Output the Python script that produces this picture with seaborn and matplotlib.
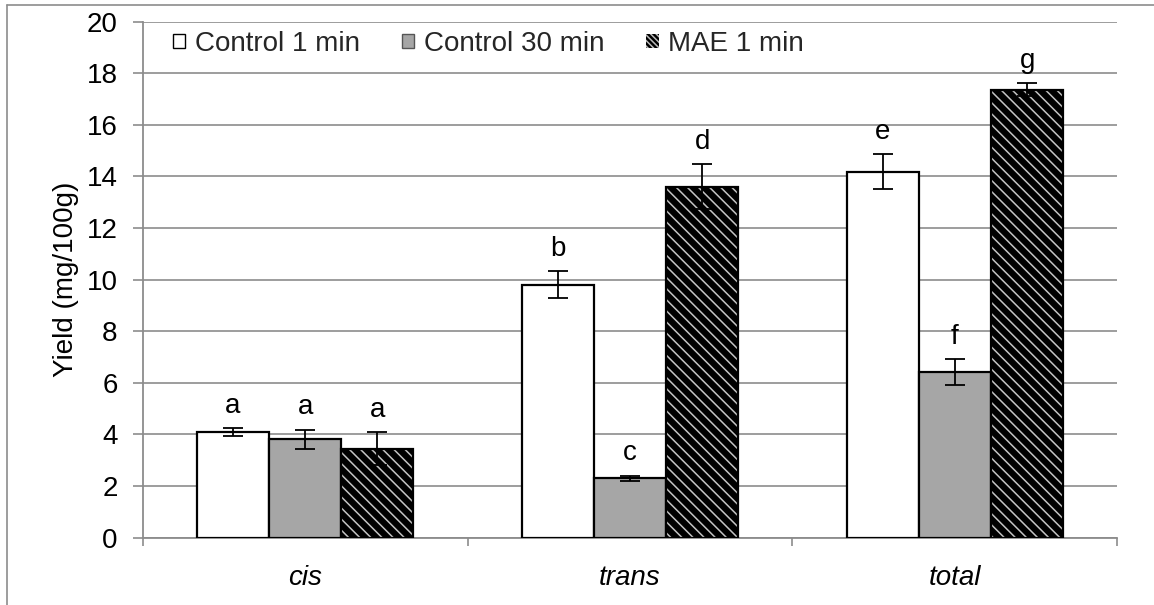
import matplotlib
matplotlib.use("Agg")
import matplotlib.pyplot as plt
from matplotlib.patches import Patch, Rectangle
from matplotlib.lines import Line2D
import seaborn as sns
import pandas as pd
import numpy as np

categories = ["cis", "trans", "total"]
series = ["Control 1 min", "Control 30 min", "MAE 1 min"]
control_1 = [4.08, 9.80, 14.18]
control_30 = [3.80, 2.30, 6.42]
mae_1 = [3.45, 13.60, 17.37]
err_control_1 = [0.15, 0.53, 0.68]
err_control_30 = [0.38, 0.10, 0.50]
err_mae_1 = [0.63, 0.88, 0.25]
letters_control_1 = ["a", "b", "e"]
letters_control_30 = ["a", "c", "f"]
letters_mae_1 = ["a", "d", "g"]

values = [control_1, control_30, mae_1]
errors = [err_control_1, err_control_30, err_mae_1]
letters = [letters_control_1, letters_control_30, letters_mae_1]

rows = []
for s, vals in zip(series, values):
    for c, v in zip(categories, vals):
        rows.append({"cat": c, "series": s, "yield": v})
df = pd.DataFrame(rows)

sns.set_theme(style="white")
plt.rcParams["font.family"] = ["Liberation Sans", "DejaVu Sans"]
plt.rcParams["hatch.linewidth"] = 1.1

FS = 20
GRID = "#8c8c8c"
colors = ["white", "#a6a6a6", "black"]

fig = plt.figure(figsize=(11.54, 6.05), dpi=100)
ax_left, ax_right, ax_bottom, ax_top = 142.7, 1117.3, 537.5, 21.7
ax = fig.add_axes([ax_left/1154, 1-ax_bottom/605, (ax_right-ax_left)/1154,
                   (ax_bottom-ax_top)/605])

sns.barplot(data=df, x="cat", y="yield", hue="series", order=categories,
            hue_order=series, palette=colors, width=0.667, gap=0,
            errorbar=None, edgecolor="black", linewidth=1.6, ax=ax,
            legend=False, zorder=3)

bar_containers = list(ax.containers)
for i, cont in enumerate(bar_containers):
    xs = []
    for p in cont.patches:
        xs.append(p.get_x() + p.get_width() / 2)
        if i == 2:
            p.set_facecolor("black")
            p.set_edgecolor("#c4c4c4")
            p.set_linewidth(0)
            p.set_hatch("\\\\\\")
            ax.add_patch(Rectangle(p.get_xy(), p.get_width(), p.get_height(),
                                   fill=False, edgecolor="black", linewidth=1.6,
                                   zorder=4))
    ax.errorbar(xs, values[i], yerr=errors[i], fmt="none", ecolor="black",
                elinewidth=1.3, capsize=7, capthick=1.3, zorder=5)
    for x, v, e, t in zip(xs, values[i], errors[i], letters[i]):
        ax.text(x, v + e + 0.6, t, ha="center", va="baseline", fontsize=FS,
                color="black")

ax.set_ylim(0, 20)
ax.set_xlim(-0.5, 2.5)
ax.set_yticks(np.arange(0, 21, 2))
ax.yaxis.grid(True, color=GRID, linewidth=1.2)
ax.set_axisbelow(True)
for s in ["top", "right"]:
    ax.spines[s].set_visible(False)
for s in ["left", "bottom"]:
    ax.spines[s].set_color(GRID)
    ax.spines[s].set_linewidth(1.3)

ax.tick_params(axis="y", which="major", length=7, width=1.2, color=GRID,
               pad=11, labelsize=FS, left=True, labelcolor="black")
ax.set_xticks([0, 1, 2])
ax.set_xticklabels(categories, fontstyle="italic", fontsize=FS)
ax.set_xticks([-0.5, 0.5, 1.5, 2.5], minor=True)
ax.tick_params(axis="x", which="major", length=0, pad=20, labelcolor="black")
ax.tick_params(axis="x", which="minor", length=6, width=1.2, color=GRID,
               bottom=True)
ax.set_xlabel("")
ax.set_ylabel("Yield (mg/100g)", fontsize=FS, color="black")
ax.yaxis.set_label_coords(-0.065, 0.5)

handles = [
    Patch(facecolor="white", edgecolor="black", linewidth=1),
    Patch(facecolor="#a6a6a6", edgecolor="#555555", linewidth=1),
    Patch(facecolor="black", edgecolor="#bbbbbb", linewidth=0,
          hatch="\\\\\\\\\\\\"),
]
ax.legend(handles, series, loc="center left", bbox_to_anchor=(0.031, 0.957),
          ncol=3, frameon=False, fontsize=FS, handlelength=0.45,
          handleheight=0.45, handletextpad=0.35, columnspacing=1.5,
          borderpad=0, borderaxespad=0)

fig.add_artist(Line2D([7/1154, 7/1154], [0, 1-5/605], transform=fig.transFigure,
                      color="#8c8c8c", linewidth=1.2))
fig.add_artist(Line2D([7/1154, 1], [1-5/605, 1-5/605], transform=fig.transFigure,
                      color="#8c8c8c", linewidth=1.2))

fig.savefig("out.png", dpi=100)
